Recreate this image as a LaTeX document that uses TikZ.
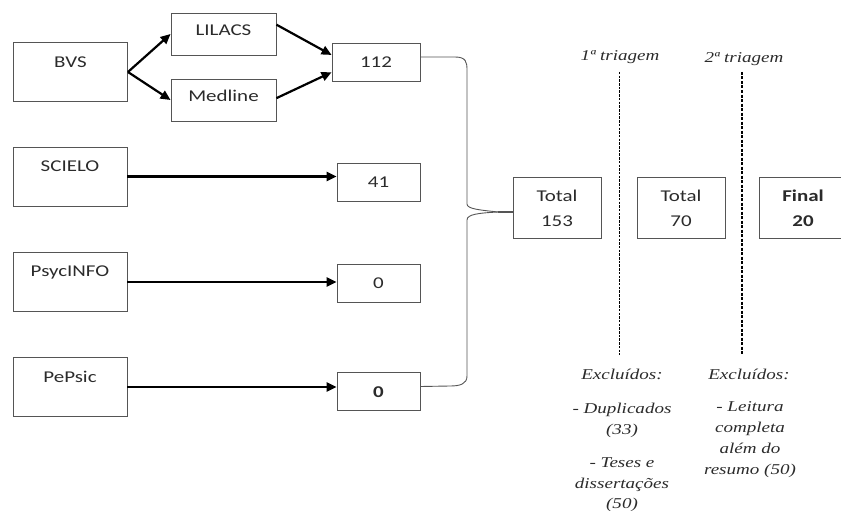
\documentclass[tikz,border=0pt]{standalone}
\usepackage{fontspec}
\setmainfont{Liberation Serif}
\newfontfamily\boxfont[FakeStretch=1.27]{Carlito}
\newfontfamily\serfont[FakeStretch=1.27]{Liberation Serif}
\usetikzlibrary{arrows.meta,calc}
\definecolor{boxline}{HTML}{555555}
\definecolor{txt}{HTML}{2b2b2b}
\begin{document}
\begin{tikzpicture}[x=1pt,y=-1pt,
  box/.style={draw=boxline,line width=0.9pt,inner sep=0pt},
  src/.style={box,minimum width=114pt,minimum height=59pt},
  mid/.style={box,minimum width=105pt,minimum height=42pt},
  res/.style={box,minimum width=83pt,minimum height=38pt},
  tot/.style={box,minimum width=88pt,minimum height=61pt},
  boxtxt/.style={font=\boxfont\fontsize{16.5}{19}\selectfont,text=txt,anchor=base,inner sep=0pt},
  boldtxt/.style={boxtxt,font=\boxfont\bfseries\fontsize{16.5}{19}\selectfont},
  ital/.style={font=\serfont\itshape\fontsize{15}{18}\selectfont,text=txt,anchor=base,inner sep=0pt},
  arr/.style={draw=black,line width=2.2pt,-{Triangle[length=10pt,width=9pt]}},
  arrh/.style={draw=black,line width=2.8pt,-{Triangle[length=10pt,width=9pt]}},
  brace/.style={draw=boxline,line width=0.9pt},
  dashA/.style={draw=black,line width=0.9pt,dash pattern=on 2.5pt off 1.2pt},
  dashB/.style={draw=black,line width=2.4pt,dash pattern=on 3pt off 1.5pt}
]
\useasboundingbox (0,0) rectangle (841,511);

% source boxes
\node[src] (bvs) at (70.5,72) {};
\node[boxtxt] (bvst) at (70.5,67) {BVS};
\node[src] (scielo) at (70,176.5) {};
\node[boxtxt] (scielot) at (70,171) {SCIELO};
\node[src] (psyc) at (70,282) {};
\node[boxtxt] (psyct) at (70,276) {PsycINFO};
\node[src] (pepsic) at (70,387) {};
\node[boxtxt] (pepsict) at (70,382) {PePsic};

% intermediate
\node[mid] (lilacs) at (223.5,34) {};
\node[boxtxt] (lilacst) at (223.5,36) {LILACS};
\node[mid] (medline) at (223.5,100) {};
\node[boxtxt] (medlinet) at (223.5,102) {Medline};

% results
\node[box,minimum width=88pt,minimum height=38pt] (n112) at (376,62) {};
\node[boxtxt] (n112t) at (376,68) {112};
\node[res] (n41) at (378.5,182) {};
\node[boxtxt] (n41t) at (378.5,187.5) {41};
\node[res] (n0a) at (378.5,283) {};
\node[boxtxt] (n0at) at (378.5,288.5) {0};
\node[res] (n0b) at (378.5,391.5) {};
\node[boldtxt] (n0bt) at (378.5,397) {0};

% arrows
\draw[arr] (bvs.east) -- (lilacs.west);
\draw[arr] (bvs.east) -- (medline.west);
\draw[arr] (lilacs.10) -- (n112.171);
\draw[arr] (medline.2) -- (n112.193);
\draw[arrh] (scielo.east) -- (scielo.east -| n41.west);
\draw[arrh] (psyc.east) -- (psyc.east -| n0a.west);
\draw[arrh] (pepsic.east) -- (pepsic.east -| n0b.west);

% totals
\node[tot] (t153) at (557,207.5) {};
\node[boxtxt] (t153a) at (557,201) {Total};
\node[boxtxt] (t153b) at (557,226) {153};
\node[tot] (t70) at (681,207.5) {};
\node[boxtxt] (t70a) at (681,201) {Total};
\node[boxtxt] (t70b) at (681,226) {70};
\node[tot,minimum width=87pt] (fin) at (802.5,207.5) {};
\node[boldtxt] (fina) at (803,201) {Final};
\node[boldtxt] (finb) at (803,226) {20};

% brace
\coordinate (tip) at (498,212);
\draw[brace] ($(n112.east)+(0,-5)$) -- (455,57) .. controls (466,57) and (467,62) .. (467,70)
  -- (467,204) .. controls (467,209) and (480,210) .. (tip);
\draw[brace] (tip) .. controls (480,213) and (467,214) .. (467,220)
  -- (467,376) .. controls (467,384) and (460,386) .. (450,386) -- ($(n0b.east)+(0,-5)$);
\draw[draw=boxline,line width=1.4pt] (tip) -- (tip -| t153.west);

% dashed lines
\coordinate (d1t) at (619,72);
\coordinate (d1b) at (619,355);
\coordinate (d2t) at (742,72);
\coordinate (d2b) at (742,355);
\draw[dashA] (d1t) -- (d1b);
\draw[dashB] (d2t) -- (d2b);

% labels
\node[ital] (tri1) at (620,61) {1ª triagem};
\node[ital] (tri2) at (744,63) {2ª triagem};
\node[ital] (exc1) at (622,379) {Excluídos:};
\node[ital] (dup1) at (622,413) {- Duplicados};
\node[ital] (dup2) at (622,434) {(33)};
\node[ital] (tes1) at (622,467) {- Teses e};
\node[ital] (tes2) at (622,488) {dissertações};
\node[ital] (tes3) at (622,508) {(50)};
\node[ital] (exc2) at (749,379) {Excluídos:};
\node[ital] (lei1) at (750,411) {- Leitura};
\node[ital] (lei2) at (750,432) {completa};
\node[ital] (lei3) at (750,453) {além do};
\node[ital] (lei4) at (750,474) {resumo (50)};
\end{tikzpicture}
\end{document}
